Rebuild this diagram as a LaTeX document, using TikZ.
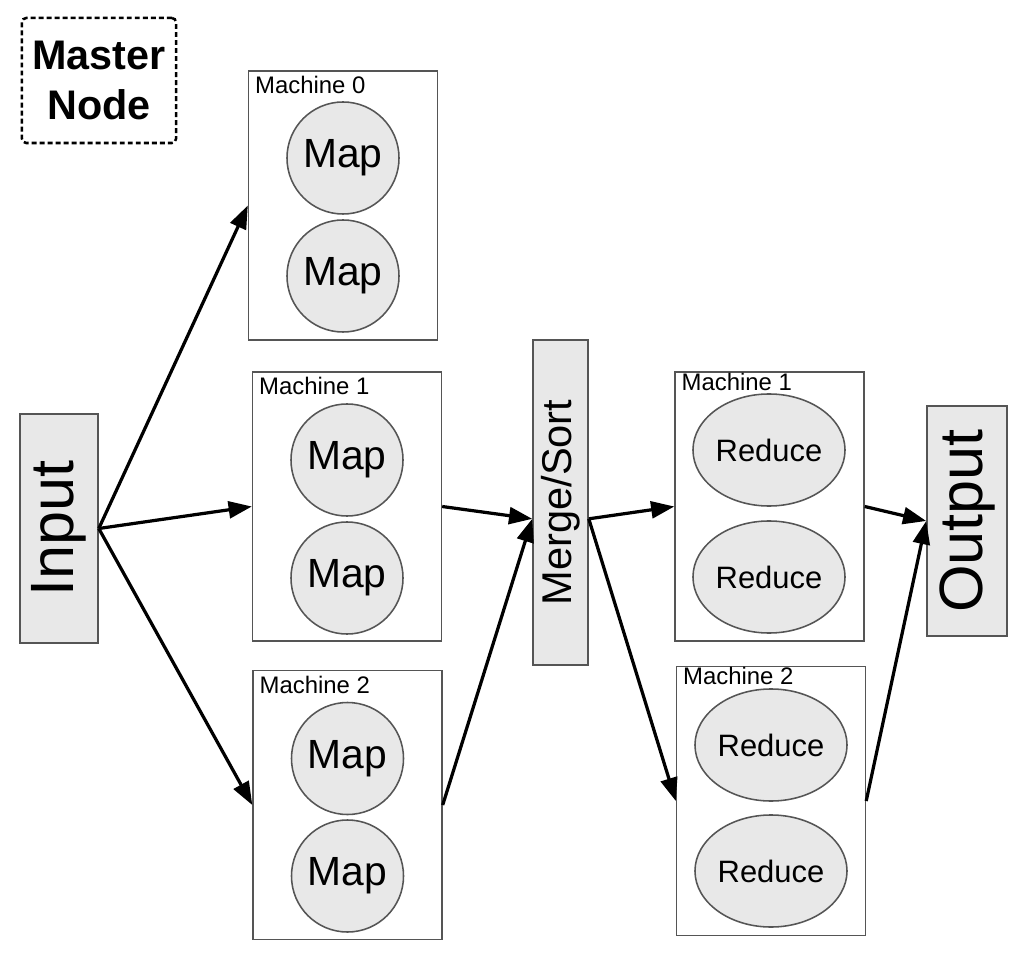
\documentclass[tikz,border=0pt]{standalone}
\usepackage{fontspec}
\usepackage{graphicx}
\setmainfont{Liberation Sans}
\usetikzlibrary{arrows.meta,shapes.geometric}
\definecolor{fillgray}{HTML}{E8E8E8}
\definecolor{boxgray}{HTML}{555555}

\begin{document}
\begin{tikzpicture}[x=0.025cm,y=-0.025cm,
  >={Triangle[length=16.5pt,width=12pt]},
  box/.style={draw=boxgray,line width=1.1pt},
  master node/.style={rectangle,draw,line width=1.8pt,dash pattern=on 3.5pt off 2.2pt,rounded corners=3pt,
    minimum width=3.85cm,minimum height=3.125cm,align=center,font=\fontsize{29.4}{35.5}\selectfont\bfseries},
  machine node/.style={box,rectangle,fill=white,minimum width=4.72cm,minimum height=6.72cm},
  map node/.style={box,circle,fill=fillgray,minimum size=2.8cm,inner sep=0pt,font=\fontsize{29}{34}\selectfont},
  reduce node/.style={box,ellipse,fill=fillgray,minimum width=3.8cm,minimum height=2.8cm,inner sep=0pt,
    font=\fontsize{22}{26}\selectfont},
  bar node/.style={box,rectangle,fill=fillgray,inner sep=0pt},
  tag node/.style={anchor=north west,inner xsep=5pt,inner ysep=4.3pt,font=\fontsize{17}{20}\selectfont},
  flow/.style={->,line width=2.3pt}]

  \useasboundingbox (0,0) rectangle (1032,970);

  % master
  \node[master node] (master) at (99,80.5) {Master\\Node};

  % input, merge, output
  \node[bar node,minimum width=1.95cm,minimum height=5.725cm,font=\fontsize{43.5}{50}\selectfont]
    (input) at (59,528.5) {\rotatebox{90}{Input}};
  \node[bar node,minimum width=1.375cm,minimum height=8.125cm,font=\fontsize{29.6}{34}\selectfont]
    (merge) at (560.5,502.5) {\rotatebox{90}{Merge/Sort}};
  \node[bar node,minimum width=2cm,minimum height=5.75cm,font=\fontsize{43.5}{50}\selectfont]
    (output) at (967,521) {\rotatebox{90}{Output}};

  % map machines
  \node[machine node] (m0) at (343,205.5) {};
  \node[tag node] (m0 tag) at (m0.north west) {Machine 0};
  \node[map node] (map01) at (343,158) {Map};
  \node[map node] (map02) at (343,276) {Map};

  \node[machine node] (m1) at (347,506.5) {};
  \node[tag node] (m1 tag) at (m1.north west) {Machine 1};
  \node[map node] (map11) at (347,460) {Map};
  \node[map node] (map12) at (347,578) {Map};

  \node[machine node] (m2) at (347.5,805) {};
  \node[tag node] (m2 tag) at (m2.north west) {Machine 2};
  \node[map node] (map21) at (347.5,758.5) {Map};
  \node[map node] (map22) at (347.5,876) {Map};

  % reduce machines
  \node[machine node] (r1) at (769.5,506.5) {};
  \node[tag node,inner ysep=0.8pt] (r1 tag) at (r1.north west) {Machine 1};
  \node[reduce node] (red11) at (769,450) {Reduce};
  \node[reduce node] (red12) at (769,577) {Reduce};

  \node[machine node] (r2) at (771,801) {};
  \node[tag node,inner ysep=0.8pt] (r2 tag) at (r2.north west) {Machine 2};
  \node[reduce node] (red21) at (771,745) {Reduce};
  \node[reduce node] (red22) at (771,871) {Reduce};

  \path[flow]
    (input.east) edge (m0.west)
    (input.east) edge (m1.west)
    (input.east) edge (m2.west)
    (m1.east) edge (merge.210)
    (m2.east) edge (merge.210)
    (merge.330) edge (r1.west)
    (merge.330) edge (r2.west)
    (r1.east) edge (output.west)
    (r2.east) edge (output.west)
    ;

\end{tikzpicture}
\end{document}
